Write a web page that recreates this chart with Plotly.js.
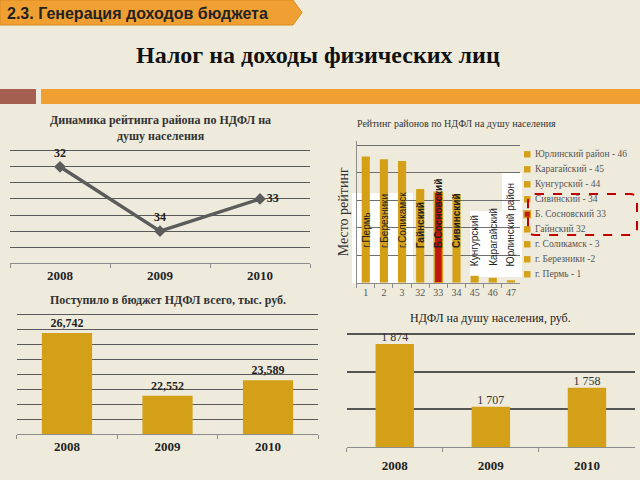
<!DOCTYPE html>
<html><head><meta charset="utf-8">
<script src="https://cdn.plot.ly/plotly-3.0.1.min.js"></script>
<style>html,body{margin:0;padding:0;background:#efebdc}</style>
</head><body><div id="chart" style="width:640px;height:480px"></div>
<script>
// ---- data ----
const years = ['2008', '2009', '2010'];
const ratingPlace = [32, 34, 33];

const districtRanks = ['1', '2', '3', '32', '33', '34', '45', '46', '47'];
const districtNames = ['г.Пермь', 'г.Березники', 'г.Соликамск', 'Гайнский', 'Б.Сосновский', 'Сивинский', 'Кунгурский', 'Карагайский', 'Юрлинский район'];
const districtValues = [45.8, 44.8, 44.2, 34.0, 32.8, 32.2, 2.5, 1.8, 0.9];
const legendLabels = ['г. Пермь - 1', 'г. Березники -2', 'г. Соликамск - 3', 'Гайнский 32', 'Б. Сосновский 33', 'Сивинский - 34', 'Кунгурский - 44', 'Карагайский - 45', 'Юрлинский район - 46'];
const highlightDistrict = 'Б.Сосновский';

const budgetTotal = [26742, 22552, 23589];
const perCapita = [1874, 1707, 1758];

// ---- styling helpers ----
const W = 640, H = 480;
const px = v => v / W;
const py = v => 1 - v / H;
const SERIF = '"Liberation Serif", "Times New Roman", serif';
const SANS = '"Liberation Sans", Arial, sans-serif';
const GOLD = '#D4A017';
const RED = '#C0180C';
const ORANGE = '#F0A032';
const BG = '#efebdc';

const fmtComma = v => v.toLocaleString('en-US');
const fmtSpace = v => String(v).replace(/\B(?=(\d{3})+(?!\d))/g, ' ');

const traces = [
  {
    type: 'scatter', mode: 'lines+markers+text', x: years, y: ratingPlace,
    xaxis: 'x', yaxis: 'y',
    text: ratingPlace.map(String),
    textposition: ['top center', 'top center', 'middle right'],
    textfont: {family: SERIF, size: 12, weight: 700, color: '#222'},
    line: {color: '#5c5c5c', width: 3.5},
    marker: {symbol: 'diamond', size: 9, color: '#5c5c5c'},
    cliponaxis: false, showlegend: false, hoverinfo: 'skip'
  },
  {
    type: 'bar', x: districtRanks, y: districtValues, xaxis: 'x2', yaxis: 'y2',
    width: 0.45,
    marker: {
      color: districtNames.map(n => n === highlightDistrict ? RED : GOLD),
      line: {color: GOLD, width: districtNames.map(n => n === highlightDistrict ? 1.5 : 0)}
    },
    showlegend: false, hoverinfo: 'skip'
  },
  {
    type: 'bar', x: years, y: budgetTotal, xaxis: 'x3', yaxis: 'y3',
    width: 0.5, marker: {color: GOLD},
    text: budgetTotal.map(fmtComma), textposition: 'outside',
    textfont: {family: SERIF, size: 12, weight: 700, color: '#222'},
    cliponaxis: false, showlegend: false, hoverinfo: 'skip'
  },
  {
    type: 'bar', x: years, y: perCapita, xaxis: 'x4', yaxis: 'y4',
    width: 0.4, marker: {color: GOLD},
    showlegend: false, hoverinfo: 'skip'
  },
  {
    type: 'scatter', mode: 'text', x: years, y: perCapita, xaxis: 'x4', yaxis: 'y4',
    text: perCapita.map(fmtSpace), textposition: 'top center',
    textfont: {family: SERIF, size: 12, color: '#333'},
    cliponaxis: false, showlegend: false, hoverinfo: 'skip'
  }
];

const catAxis = (d0, d1, anchor, n, font) => ({
  domain: [px(d0), px(d1)], anchor: anchor, type: 'category',
  range: [-0.5, n - 0.5], showgrid: false, zeroline: false,
  showline: true, linecolor: '#8c8c8c', linewidth: 1,
  ticks: 'outside', tickson: 'boundaries', ticklen: 4, tickcolor: '#8c8c8c',
  tickangle: 0, tickfont: font, fixedrange: true
});
// value axis: the top gridline sits at pixel `top` (value `topVal`), the bottom at `bottom` (value `botVal`);
// the axis is stretched 4px above the top gridline so that gridline is not clipped at the range edge.
const valAxis = (top, bottom, anchor, botVal, topVal, dtick, gridcolor, gridwidth) => {
  const pad = 4;
  const per = (topVal - botVal) / (bottom - top);
  return {
    domain: [py(bottom), py(top - pad)], anchor: anchor,
    range: [botVal, topVal + per * pad], dtick: dtick, tick0: botVal,
    showticklabels: false, ticks: '', zeroline: false, showline: false,
    gridcolor: gridcolor, gridwidth: gridwidth, fixedrange: true
  };
};

const boldYear = {family: SERIF, size: 13, weight: 700, color: '#222'};

const layout = {
  width: W, height: H, margin: {l: 0, r: 0, t: 0, b: 0},
  paper_bgcolor: BG, plot_bgcolor: 'rgba(0,0,0,0)',
  showlegend: false, barmode: 'overlay',
  xaxis: catAxis(10, 310, 'y', 3, boldYear),
  yaxis: valAxis(150.7, 263.3, 'x', 35, 31.5, 0.5, '#5a5a5a', 1),
  xaxis2: catAxis(356.7, 520, 'y2', 9, {family: SERIF, size: 10, color: '#555'}),
  yaxis2: Object.assign(valAxis(145, 282.7, 'x2', 0, 50, 10, '#6e6e6e', 1), {
    showline: true, linecolor: '#8c8c8c',
    title: {text: 'Место рейтинг', font: {family: SERIF, size: 14, color: '#333'}, standoff: 3}
  }),
  xaxis3: catAxis(16.7, 318.3, 'y3', 3, boldYear),
  yaxis3: valAxis(314.3, 434, 'x3', 20000, 28000, 1000, '#5a5a5a', 1),
  xaxis4: Object.assign(catAxis(346.7, 635, 'y4', 3, boldYear), {ticklabelstandoff: 6}),
  yaxis4: valAxis(334.3, 447, 'x4', 1600, 1900, 100, '#555', 2),
  shapes: [],
  annotations: []
};
// rating axis is reversed (place 32 is above 34)
layout.yaxis.range = layout.yaxis.range.slice();
layout.yaxis.dtick = -0.5;
layout.yaxis.dtick = 0.5;
layout.yaxis.tick0 = 31.5;

// header tab & decorative bars
layout.shapes.push({
  type: 'path', xref: 'paper', yref: 'paper', layer: 'below',
  path: `M 0 ${py(0)} L ${px(293)} ${py(0)} L ${px(302)} ${py(12.5)} L ${px(293)} ${py(25)} L 0 ${py(25)} Z`,
  fillcolor: ORANGE, line: {color: '#d88a1e', width: 1}
});
layout.shapes.push({type: 'rect', xref: 'paper', yref: 'paper', layer: 'below',
  x0: 0, x1: px(36), y0: py(104), y1: py(89), fillcolor: '#A55F50', line: {width: 0}});
layout.shapes.push({type: 'rect', xref: 'paper', yref: 'paper', layer: 'below',
  x0: px(41), x1: 1, y0: py(104), y1: py(89), fillcolor: ORANGE, line: {width: 0}});

// white label boxes in the ranking chart
[[352, 413, 193, 283], [470, 502, 211, 277], [502, 522, 173, 277]].forEach(b => {
  layout.shapes.push({type: 'rect', xref: 'paper', yref: 'paper', layer: 'below',
    x0: px(b[0]), x1: px(b[1]), y0: py(b[3]), y1: py(b[2]), fillcolor: '#ffffff', line: {width: 0}});
});

layout.annotations.push(
  {xref: 'paper', yref: 'paper', x: px(5), y: py(13), xanchor: 'left', yanchor: 'middle', showarrow: false,
   text: '2.3. Генерация доходов бюджета', font: {family: SANS, size: 16, weight: 700, color: '#222'}},
  {xref: 'paper', yref: 'paper', x: px(318), y: py(55), xanchor: 'center', yanchor: 'middle', showarrow: false,
   text: 'Налог на доходы физических лиц', font: {family: SERIF, size: 24, weight: 700, color: '#111'}},
  {xref: 'paper', yref: 'paper', x: px(160), y: py(128), xanchor: 'center', yanchor: 'middle', showarrow: false,
   text: 'Динамика рейтинга района по НДФЛ на<br>душу населения', font: {family: SERIF, size: 12, weight: 700, color: '#333'}},
  {xref: 'paper', yref: 'paper', x: px(456), y: py(124), xanchor: 'center', yanchor: 'middle', showarrow: false,
   text: 'Рейтинг районов по НДФЛ на душу населения', font: {family: SERIF, size: 10, color: '#333'}},
  {xref: 'paper', yref: 'paper', x: px(168), y: py(300), xanchor: 'center', yanchor: 'middle', showarrow: false,
   text: 'Поступило в бюджет НДФЛ всего, тыс. руб.', font: {family: SERIF, size: 12, weight: 700, color: '#333'}},
  {xref: 'paper', yref: 'paper', x: px(490), y: py(318), xanchor: 'center', yanchor: 'middle', showarrow: false,
   text: 'НДФЛ на душу населения, руб.', font: {family: SERIF, size: 12, color: '#222'}}
);

// rotated district names on bars (x = category index)
const boldNames = ['Гайнский', 'Б.Сосновский', 'Сивинский'];
districtNames.forEach((n, i) => {
  layout.annotations.push({
    xref: 'x2', yref: 'paper', x: i, y: py(i >= 6 ? 268 : 250),
    xanchor: 'center', yanchor: 'bottom', textangle: -90, showarrow: false,
    text: n, font: {family: SANS, size: 10, weight: boldNames.includes(n) ? 700 : 400, color: '#222'}
  });
});

// manual legend for the ranking chart (top item = last district)
legendLabels.forEach((lab, i) => {
  const k = legendLabels.length - 1 - i;
  const yc = 154.3 + k * 15;
  const isHi = districtNames[i] === highlightDistrict;
  layout.shapes.push({type: 'rect', xref: 'paper', yref: 'paper',
    x0: px(524), x1: px(530.5), y0: py(yc + 3.2), y1: py(yc - 3.2),
    fillcolor: isHi ? RED : GOLD, line: {color: GOLD, width: isHi ? 1.5 : 0}});
  layout.annotations.push({xref: 'paper', yref: 'paper', x: px(533), y: py(yc),
    xanchor: 'left', yanchor: 'middle', showarrow: false, text: lab,
    font: {family: SERIF, size: 9.5, color: '#555'}});
});

// red dashed rounded highlight frame
(function () {
  const x0 = 528, x1 = 637, y0 = 194, y1 = 235, r = 7;
  const P = (x, y) => `${px(x)},${py(y)}`;
  const path = `M ${P(x0 + r, y0)} L ${P(x1 - r, y0)} Q ${P(x1, y0)} ${P(x1, y0 + r)} L ${P(x1, y1 - r)} Q ${P(x1, y1)} ${P(x1 - r, y1)} L ${P(x0 + r, y1)} Q ${P(x0, y1)} ${P(x0, y1 - r)} L ${P(x0, y0 + r)} Q ${P(x0, y0)} ${P(x0 + r, y0)} Z`;
  layout.shapes.push({type: 'path', xref: 'paper', yref: 'paper', path: path,
    line: {color: '#C00000', width: 2, dash: 'dash'}, fillcolor: 'rgba(0,0,0,0)'});
})();

Plotly.newPlot('chart', traces, layout, {staticPlot: true, displayModeBar: false});
</script>
</body></html>
